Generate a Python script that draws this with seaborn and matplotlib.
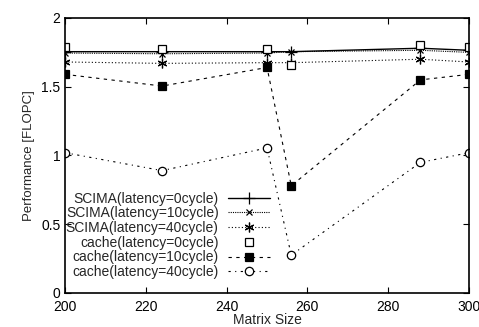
import numpy as np
import pandas as pd
import matplotlib
matplotlib.use("Agg")
import matplotlib.pyplot as plt
import seaborn as sns

# data
matrix_size = [200, 224, 250, 256, 288, 300]
scima_0 = [1.755, 1.755, 1.755, 1.755, 1.78, 1.765]
scima_10 = [1.745, 1.74, 1.745, 1.755, 1.765, 1.75]
scima_40 = [1.68, 1.67, 1.675, 1.675, 1.70, 1.68]
cache_0 = [1.79, 1.775, 1.775, 1.66, 1.80, 1.79]
cache_10 = [1.59, 1.505, 1.64, 0.78, 1.55, 1.59]
cache_40 = [1.02, 0.89, 1.055, 0.275, 0.95, 1.02]

labels = ["SCIMA(latency=0cycle)", "SCIMA(latency=10cycle)", "SCIMA(latency=40cycle)",
          "cache(latency=0cycle)", "cache(latency=10cycle)", "cache(latency=40cycle)"]
series = [scima_0, scima_10, scima_40, cache_0, cache_10, cache_40]

sns.set_style("ticks")
plt.rcParams['font.family'] = ['Liberation Sans', 'DejaVu Sans']

fig = plt.figure(figsize=(4.79, 3.27), dpi=100)
ax = fig.add_axes([0.136, 0.104, 0.843, 0.841])

asterisk = (6, 2, 0)
styles = [
    dict(linestyle="-", marker="+", markersize=8, mfc="none", lw=1.0),
    dict(linestyle=(0, (1, 1)), marker="x", markersize=5, mfc="none", lw=0.8),
    dict(linestyle=(0, (1, 2)), marker=asterisk, markersize=7, mfc="none", lw=0.8),
    dict(linestyle="none", marker="s", markersize=6, mfc="white", lw=0.8),
    dict(linestyle=(0, (3, 4)), marker="s", markersize=6, mfc="black", lw=0.8),
    dict(linestyle=(0, (2, 4, 1, 4)), marker="o", markersize=6, mfc="white", lw=0.8),
]

for lab, vals, st in zip(labels, series, styles):
    df = pd.DataFrame({"Matrix Size": matrix_size, "Performance": vals})
    sns.lineplot(data=df, x="Matrix Size", y="Performance", ax=ax, color="black",
                 label=lab, mec="black", mew=0.9, **st)

ax.set_xlim(200, 300)
ax.set_ylim(0, 2)
ax.set_xticks([200, 220, 240, 260, 280, 300])
ax.set_yticks([0, 0.5, 1, 1.5, 2])
ax.set_yticklabels(["0", "0.5", "1", "1.5", "2"])
ax.tick_params(direction="in", top=True, right=True, length=4, labelsize=10, colors="black")
ax.tick_params(axis="x", pad=5)
ax.set_xlabel("Matrix Size", fontsize=10, labelpad=-1)
ax.set_ylabel("Performance [FLOPC]", fontsize=9.5, labelpad=4)
for s in ax.spines.values():
    s.set_linewidth(1.2)
    s.set_color("black")

ax.legend(loc="lower right", bbox_to_anchor=(0.535, 0.01), frameon=False, markerfirst=False,
          fontsize=10, handlelength=3.0, handletextpad=0.7, labelspacing=0.05, borderpad=0.3)

fig.savefig("out.png", dpi=100)
